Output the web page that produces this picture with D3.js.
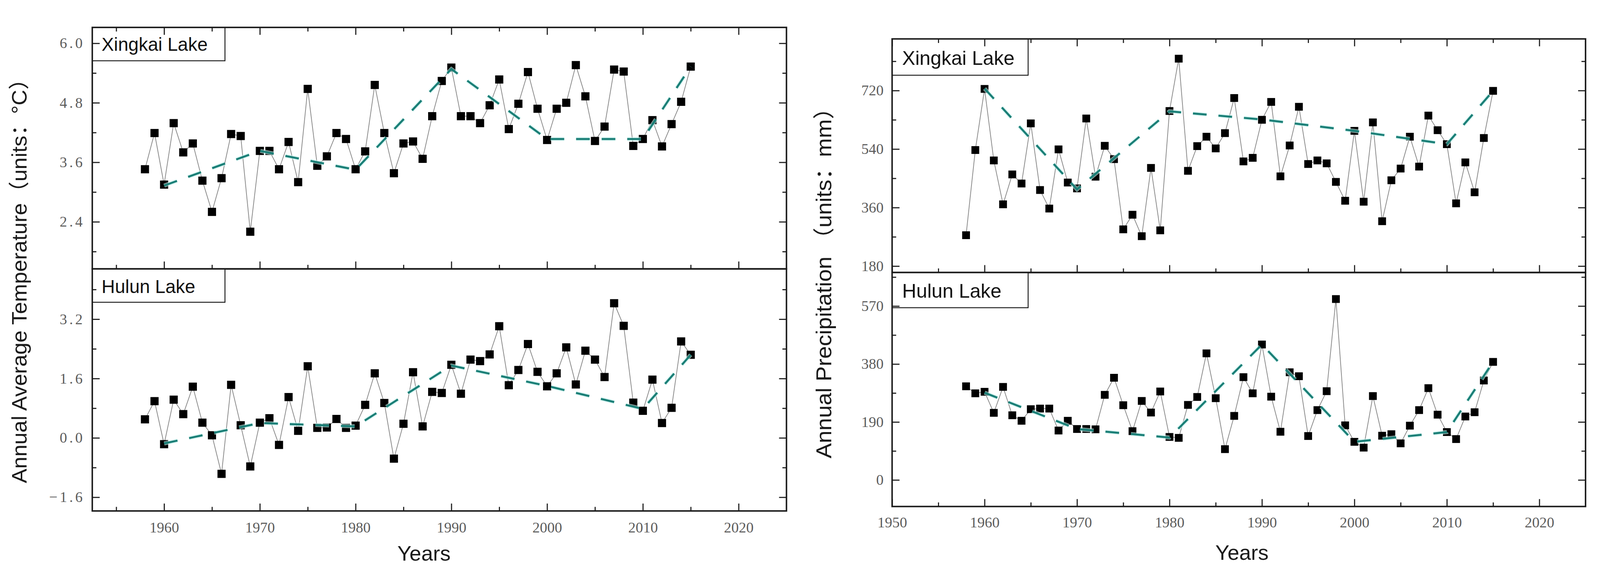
<!DOCTYPE html>
<html>
<head>
<meta charset="utf-8">
<script src="https://cdn.jsdelivr.net/npm/d3@7/dist/d3.min.js"></script>
<style>
  html, body { margin: 0; padding: 0; overflow: hidden; background: #fff; }
  #chart { display: block; width: 100vw; height: 100vh; }
  svg text { font-family: "Liberation Sans", Arial, sans-serif; }
</style>
</head>
<body>
<svg id="chart" viewBox="0 0 4317 1500" preserveAspectRatio="xMidYMid meet"></svg>
<script>
// ---- data ----
var years = [1958,1959,1960,1961,1962,1963,1964,1965,1966,1967,1968,1969,
  1970,1971,1972,1973,1974,1975,1976,1977,1978,1979,1980,1981,1982,1983,1984,
  1985,1986,1987,1988,1989,1990,1991,1992,1993,1994,1995,1996,1997,1998,1999,
  2000,2001,2002,2003,2004,2005,2006,2007,2008,2009,2010,2011,2012,2013,2014,2015];

var xingkaiTemp = [3.46,4.19,3.15,4.39,3.80,3.98,3.23,2.60,3.28,4.17,4.13,2.20,
  3.83,3.83,3.46,4.01,3.20,5.08,3.53,3.72,4.19,4.07,3.46,3.82,5.16,4.19,3.38,
  3.98,4.02,3.67,4.53,5.24,5.51,4.53,4.53,4.39,4.75,5.27,4.27,4.78,5.42,4.68,
  4.05,4.68,4.80,5.56,4.93,4.03,4.32,5.47,5.43,3.93,4.07,4.45,3.92,4.37,4.82,5.53];

var hulunTemp = [0.50,0.99,-0.17,1.03,0.64,1.38,0.41,0.07,-0.97,1.43,0.34,-0.77,
  0.41,0.53,-0.19,1.10,0.19,1.93,0.27,0.28,0.51,0.27,0.33,0.89,1.74,0.94,-0.56,
  0.38,1.77,0.31,1.24,1.21,1.97,1.19,2.11,2.07,2.25,3.01,1.42,1.83,2.53,1.78,
  1.39,1.74,2.44,1.44,2.35,2.11,1.64,3.63,3.02,0.95,0.73,1.57,0.40,0.81,2.60,2.24];

var xingkaiPrec = [275,537,725,505,370,462,434,619,414,357,539,437,
  419,634,455,550,509,293,338,272,482,290,657,818,473,549,578,
  542,589,697,502,513,630,685,456,551,670,494,505,496,439,381,
  596,378,622,318,444,480,578,486,643,598,555,373,499,407,574,719];

var hulunPrec = [307,284,289,220,305,212,194,232,234,234,162,194,
  167,167,166,279,335,245,160,259,221,290,141,138,246,272,415,
  268,101,210,337,284,444,273,158,353,340,144,229,291,593,179,
  125,106,275,145,150,120,178,229,301,214,157,134,208,222,326,387];

// dashed trend lines (teal)
var trendYears = [1960,1970,1980,1990,2000,2010,2015];
var trendXingkaiTemp = [3.13,3.83,3.45,5.48,4.07,4.07,5.53];
var trendHulunTemp = [-0.15,0.40,0.31,1.95,1.40,0.78,2.24];
var trendXingkaiPrec = [726,416,656,631,596,555,719];
var trendHulunPrec = [286,167,139,444,125,157,387];

// tick values
var tempXMajor = [1960,1970,1980,1990,2000,2010,2020];
var tempXMinor = [1955,1965,1975,1985,1995,2005,2015];
var precXMajor = [1950,1960,1970,1980,1990,2000,2010,2020];
var precXMinor = [1955,1965,1975,1985,1995,2005,2015];
var xkTempMajor = [2.4,3.6,4.8,6.0];
var xkTempMinor = [1.8,3.0,4.2,5.4];
var hlTempMajor = [-1.6,0.0,1.6,3.2];
var hlTempMinor = [-0.8,0.8,2.4,4.0];
var xkPrecMajor = [180,360,540,720];
var xkPrecMinor = [270,450,630,810];
var hlPrecMajor = [0,190,380,570];
var hlPrecMinor = [95,285,475,665];

var lakeNames = ['Xingkai Lake', 'Hulun Lake'];

// ---- drawing ----
var svg = d3.select('#chart');
svg.append('rect').attr('width', 4317).attr('height', 1500).attr('fill', '#fff');

var tealColor = '#1b7f77';
var trendDash = '37,32';

function styleAxis(g, fontSize, spacing) {
  g.select('.domain').remove();
  g.selectAll('.tick line').attr('stroke', '#1e1e1e').attr('stroke-width', 3);
  g.selectAll('.tick text')
    .attr('fill', '#5c5c5c')
    .style('font-family', '"Liberation Serif", "Times New Roman", serif')
    .style('font-size', fontSize + 'px')
    .style('letter-spacing', spacing + 'px');
}

function panel(p) {
  var g = svg.append('g');
  var x = d3.scaleLinear().domain(p.xDomain).range([p.left, p.right]);
  var y = d3.scaleLinear().domain(p.yDomain).range([p.bottom, p.top]);

  var pts = years.map(function(yr, i) { return [yr, p.values[i]]; });
  var trend = trendYears.map(function(yr, i) { return [yr, p.trend[i]]; });
  var line = d3.line().x(function(d) { return x(d[0]); }).y(function(d) { return y(d[1]); });

  g.append('path').datum(pts)
    .attr('d', line)
    .attr('fill', 'none')
    .attr('stroke', '#888')
    .attr('stroke-width', 2);

  g.selectAll('rect.pt').data(pts).enter()
    .append('rect')
    .attr('class', 'pt')
    .attr('x', function(d) { return x(d[0]) - p.ms / 2; })
    .attr('y', function(d) { return y(d[1]) - p.ms / 2; })
    .attr('width', p.ms)
    .attr('height', p.ms)
    .attr('fill', '#000');

  // soft halo under the dashes, as in the scanned figure
  g.append('path').datum(trend)
    .attr('d', line)
    .attr('fill', 'none')
    .attr('stroke', '#c8f4ef')
    .attr('stroke-width', 11)
    .attr('stroke-opacity', 0.6)
    .attr('stroke-dasharray', trendDash);
  g.append('path').datum(trend)
    .attr('d', line)
    .attr('fill', 'none')
    .attr('stroke', tealColor)
    .attr('stroke-width', 5.5)
    .attr('stroke-dasharray', trendDash);

  // lake label box
  g.append('rect')
    .attr('x', p.left).attr('y', p.top)
    .attr('width', p.boxW).attr('height', p.boxH)
    .attr('fill', '#fff').attr('stroke', '#1a1a1a').attr('stroke-width', 2.5);
  g.append('text')
    .attr('x', p.left + p.boxPad).attr('y', p.top + p.boxBase)
    .attr('fill', '#111')
    .style('font-size', p.boxFont + 'px')
    .text(p.name);

  // axes, ticks pointing inward
  var ax = g.append('g').attr('transform', 'translate(' + p.left + ',0)')
    .call(d3.axisLeft(y).tickValues(p.yMajor).tickSize(-20).tickPadding(p.yPad).tickFormat(p.yFmt));
  styleAxis(ax, 40, p.ySpacing);
  ax = g.append('g').attr('transform', 'translate(' + p.left + ',0)')
    .call(d3.axisLeft(y).tickValues(p.yMinor).tickSize(-11).tickFormat(''));
  styleAxis(ax, 40, 0);
  ax = g.append('g').attr('transform', 'translate(' + p.right + ',0)')
    .call(d3.axisRight(y).tickValues(p.yMajor).tickSize(-20).tickFormat(''));
  styleAxis(ax, 40, 0);
  ax = g.append('g').attr('transform', 'translate(' + p.right + ',0)')
    .call(d3.axisRight(y).tickValues(p.yMinor).tickSize(-11).tickFormat(''));
  styleAxis(ax, 40, 0);

  ax = g.append('g').attr('transform', 'translate(0,' + p.bottom + ')')
    .call(d3.axisBottom(x).tickValues(p.xMajor).tickSize(-20).tickPadding(p.xPad)
      .tickFormat(p.xLabels ? d3.format('d') : ''));
  styleAxis(ax, 40, 0);
  ax = g.append('g').attr('transform', 'translate(0,' + p.bottom + ')')
    .call(d3.axisBottom(x).tickValues(p.xMinor).tickSize(-11).tickFormat(''));
  styleAxis(ax, 40, 0);
  if (p.topTicks) {
    ax = g.append('g').attr('transform', 'translate(0,' + p.top + ')')
      .call(d3.axisTop(x).tickValues(p.xMajor).tickSize(-20).tickFormat(''));
    styleAxis(ax, 40, 0);
    ax = g.append('g').attr('transform', 'translate(0,' + p.top + ')')
      .call(d3.axisTop(x).tickValues(p.xMinor).tickSize(-11).tickFormat(''));
    styleAxis(ax, 40, 0);
  }

  g.append('rect')
    .attr('x', p.left).attr('y', p.top)
    .attr('width', p.right - p.left).attr('height', p.bottom - p.top)
    .attr('fill', 'none').attr('stroke', '#1a1a1a').attr('stroke-width', 4);
}

var fmt1 = d3.format('.1f');
var fmt0 = d3.format('d');

// left: temperature
panel({ name: lakeNames[0], values: xingkaiTemp, trend: trendXingkaiTemp,
  xDomain: [1952.5, 2025], yDomain: [1.45, 6.32],
  left: 249, right: 2122, top: 33.5, bottom: 685,
  xMajor: tempXMajor, xMinor: tempXMinor, yMajor: xkTempMajor, yMinor: xkTempMinor,
  yFmt: fmt1, yPad: 20, ySpacing: 6, xPad: 30, xLabels: false, topTicks: true,
  ms: 22, boxW: 358, boxH: 90, boxPad: 25, boxBase: 63, boxFont: 50 });
panel({ name: lakeNames[1], values: hulunTemp, trend: trendHulunTemp,
  xDomain: [1952.5, 2025], yDomain: [-1.97, 4.555],
  left: 249, right: 2122, top: 685, bottom: 1338,
  xMajor: tempXMajor, xMinor: tempXMinor, yMajor: hlTempMajor, yMinor: hlTempMinor,
  yFmt: fmt1, yPad: 20, ySpacing: 6, xPad: 30, xLabels: true, topTicks: false,
  ms: 22, boxW: 358, boxH: 90, boxPad: 25, boxBase: 65, boxFont: 50 });

// right: precipitation
panel({ name: lakeNames[0], values: xingkaiPrec, trend: trendXingkaiPrec,
  xDomain: [1950, 2025], yDomain: [160.3, 878.8],
  left: 2407, right: 4278, top: 64.5, bottom: 694.7,
  xMajor: precXMajor, xMinor: precXMinor, yMajor: xkPrecMajor, yMinor: xkPrecMinor,
  yFmt: fmt0, yPad: 23, ySpacing: 0, xPad: 28, xLabels: false, topTicks: true,
  ms: 21, boxW: 367, boxH: 98, boxPad: 27, boxBase: 70, boxFont: 53 });
panel({ name: lakeNames[1], values: hulunPrec, trend: trendHulunPrec,
  xDomain: [1950, 2025], yDomain: [-87, 680],
  left: 2407, right: 4278, top: 694.7, bottom: 1326,
  xMajor: precXMajor, xMinor: precXMinor, yMajor: hlPrecMajor, yMinor: hlPrecMinor,
  yFmt: fmt0, yPad: 23, ySpacing: 0, xPad: 28, xLabels: true, topTicks: false,
  ms: 21, boxW: 367, boxH: 95, boxPad: 27, boxBase: 68, boxFont: 53 });

// axis titles
svg.append('text')
  .attr('transform', 'translate(72,703) rotate(-90)')
  .attr('text-anchor', 'middle')
  .attr('textLength', 1120).attr('lengthAdjust', 'spacingAndGlyphs')
  .attr('fill', '#1a1a1a')
  .style('font-family', '"Liberation Sans Narrow", "Liberation Sans", "Noto Sans CJK SC", sans-serif')
  .style('font-size', '56px')
  .text('Annual Average Temperature（units：°C）');
svg.append('text')
  .attr('transform', 'translate(2243,708) rotate(-90)')
  .attr('text-anchor', 'middle')
  .attr('textLength', 976).attr('lengthAdjust', 'spacingAndGlyphs')
  .attr('fill', '#1a1a1a')
  .style('font-family', '"Liberation Sans Narrow", "Liberation Sans", "Noto Sans CJK SC", sans-serif')
  .style('font-size', '58px')
  .text('Annual Precipitation （units：mm）');

svg.append('text')
  .attr('x', 1144).attr('y', 1472)
  .attr('text-anchor', 'middle').attr('fill', '#1a1a1a')
  .style('font-size', '57px').text('Years');
svg.append('text')
  .attr('x', 3351).attr('y', 1470)
  .attr('text-anchor', 'middle').attr('fill', '#1a1a1a')
  .style('font-size', '57px').text('Years');
</script>
</body>
</html>
